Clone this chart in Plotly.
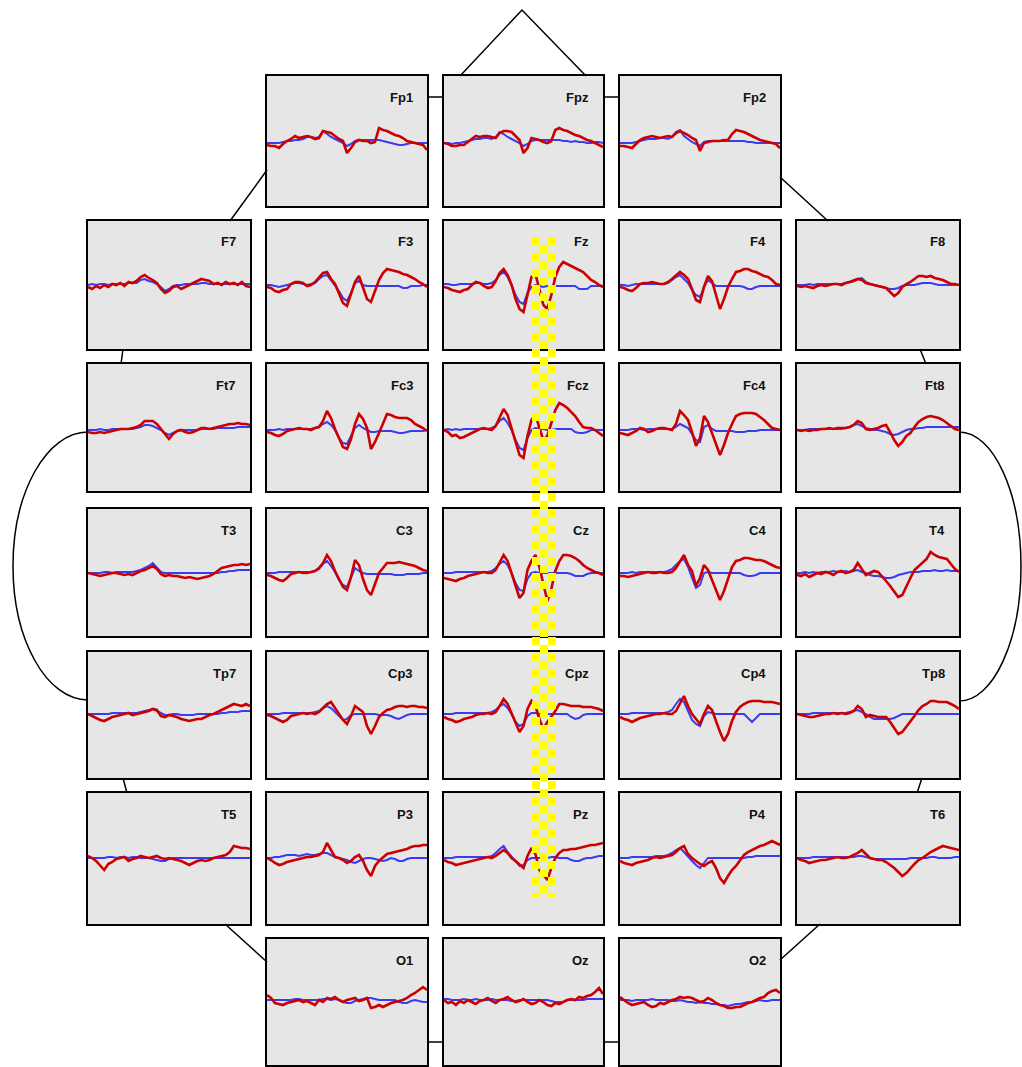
import plotly.graph_objects as go

W, H = 1022, 1067

# ---------------- channel layout (names per row) ----------------
ROW_NAMES = [
    ["Fp1", "Fpz", "Fp2"],
    ["F7", "F3", "Fz", "F4", "F8"],
    ["Ft7", "Fc3", "Fcz", "Fc4", "Ft8"],
    ["T3", "C3", "Cz", "C4", "T4"],
    ["Tp7", "Cp3", "Cpz", "Cp4", "Tp8"],
    ["T5", "P3", "Pz", "P4", "T6"],
    ["O1", "Oz", "O2"],
]
ROW_COLS = [[1, 2, 3], [0, 1, 2, 3, 4], [0, 1, 2, 3, 4], [0, 1, 2, 3, 4],
            [0, 1, 2, 3, 4], [0, 1, 2, 3, 4], [1, 2, 3]]

# time samples (41 per epoch)
TIME = list(range(41))

# ---------------- waveform data (amplitude, positive up) ----------------
FP1_RED = [-2,-3,-3,-5,-1,2,4,7,5,6,7,6,4,5,12,11,10,7,4,2,-10,-5,1,3,2,2,0,1,15,13,12,10,8,7,5,2,1,0,-1,-2,-7]
FP1_BLUE = [0,0,0,0,1,2,2,3,3,4,6,6,5,6,12,9,6,4,2,0,-3,-1,2,3,3,3,3,3,3,2,1,0,-1,-2,-2,-1,0,0,0,0,0]
FPZ_RED = [0,-1,-3,-3,-2,-2,1,4,7,6,7,7,6,5,10,12,12,11,7,3,-10,-5,5,4,3,1,0,2,13,15,13,12,10,8,7,5,3,2,0,-2,-4]
FPZ_BLUE = [0,0,-1,0,0,1,2,3,4,4,5,5,4,6,11,9,6,4,2,0,-3,-1,2,3,3,3,3,3,3,3,2,2,1,2,1,1,0,0,1,1,0]
FP2_RED = [-3,-3,-4,-5,-1,3,5,6,7,6,5,6,7,6,10,12,10,8,5,3,-8,0,1,2,2,2,3,3,9,13,12,11,9,7,5,3,2,1,0,-1,-5]
FP2_BLUE = [0,0,0,0,1,2,3,4,4,4,5,5,4,6,11,13,7,4,1,-1,-3,1,2,2,2,2,2,2,2,2,2,2,1,1,0,0,0,0,0,0,0]

F7_RED = [-2,-4,-1,-3,0,-2,1,0,2,-1,3,2,4,8,10,7,5,2,-4,-8,-6,-2,-1,-4,-2,0,2,4,6,5,4,1,2,0,3,1,2,0,3,-1,-2]
F7_BLUE = [0,1,0,1,1,0,1,1,1,1,2,2,2,5,6,4,3,1,-2,-6,-4,-1,0,0,1,1,1,1,2,2,1,1,1,1,1,1,1,1,1,1,1]
F3_RED = [-2,-3,-6,-7,-5,-4,1,3,3,2,-1,0,3,8,12,13,6,1,-8,-18,-21,-9,3,9,-2,-14,-17,-6,5,12,16,15,14,13,11,10,8,6,3,1,-2]
F3_BLUE = [0,0,-1,-2,-1,0,1,2,2,1,0,1,2,6,9,10,5,0,-6,-13,-16,-8,2,4,0,-1,-1,-1,-1,-1,-1,-1,-1,-1,-3,-3,-1,-1,-1,0,0]
FZ_RED = [-2,-3,-5,-6,-7,-5,-4,0,3,2,-1,-3,-2,4,12,16,10,0,-14,-24,-27,-10,8,11,-5,-20,-24,-10,8,18,23,21,19,17,15,13,9,5,3,0,-2]
FZ_BLUE = [1,1,0,0,1,1,1,1,2,2,1,1,2,5,10,13,8,0,-10,-17,-19,-8,-2,0,-1,-2,-1,-1,-1,-1,-1,-1,-1,-1,-4,-4,-4,-1,-1,-1,-1]
F4_RED = [-2,-3,-5,-6,-3,1,2,2,3,2,1,1,3,6,10,13,10,6,-4,-15,-17,-2,9,4,-10,-24,-14,-2,6,13,14,16,16,14,13,11,9,8,5,1,0]
F4_BLUE = [0,0,-1,0,1,1,1,1,1,1,1,1,2,5,8,10,6,2,-5,-10,-12,-2,5,2,-1,-1,-1,-1,-1,-1,-1,-2,-4,-4,-2,-1,-1,-1,-1,-1,-1]
F8_RED = [-1,-2,-1,-2,-3,-1,0,-1,0,1,1,0,2,3,4,6,5,2,1,0,-1,-2,-3,-7,-11,-8,-2,1,3,6,9,9,8,9,7,6,5,3,1,1,0]
F8_BLUE = [0,0,0,1,0,1,1,1,1,1,1,1,2,3,5,6,7,3,1,0,-1,-2,-3,-4,-4,-3,-1,0,0,0,1,2,2,2,1,0,0,0,0,0,0]

FT7_RED = [-2,-3,-3,-2,-3,-2,-1,0,1,1,1,2,3,5,9,9,9,6,1,-5,-9,-4,-1,0,-2,-3,-2,0,2,2,1,2,3,4,5,6,6,7,6,6,5]
FT7_BLUE = [0,0,0,1,0,0,1,1,1,1,1,1,2,3,5,5,4,2,0,-3,-5,-3,-1,0,0,0,0,0,1,1,1,1,2,2,2,2,2,3,3,3,3]
FC3_RED = [-2,-3,-5,-6,-4,-1,0,1,2,1,1,0,2,3,9,19,12,1,-8,-17,-19,-9,6,16,11,2,-19,-12,-3,6,16,15,13,12,12,12,10,6,4,2,-1]
FC3_BLUE = [0,0,0,1,0,1,1,1,1,1,1,1,2,3,6,8,5,0,-8,-13,-14,-6,2,5,2,0,-2,-2,-1,-1,-1,-1,-2,-3,-3,-2,-1,-1,-1,-1,0]
FCZ_RED = [0,-2,-6,-5,-8,-7,-5,-3,-1,1,2,1,0,4,12,21,15,2,-12,-25,-28,-6,10,16,2,-10,-6,8,20,27,25,22,18,14,8,3,2,2,0,-3,-6]
FCZ_BLUE = [0,1,0,1,0,1,1,1,1,1,1,1,2,4,9,12,7,0,-10,-18,-20,-8,0,2,1,1,0,0,1,1,1,1,1,-2,-3,-3,-2,0,0,0,0]
FC4_RED = [-3,-4,-5,-3,-1,2,1,-2,-1,1,2,2,1,0,6,19,15,10,-2,-16,-8,14,8,-3,-14,-25,-15,-3,6,14,16,17,17,17,16,13,10,6,2,1,0]
FC4_BLUE = [0,0,0,1,1,1,0,1,1,1,1,1,1,1,3,6,4,2,-4,-10,-12,3,5,1,-1,-1,-1,-1,-1,-2,-2,-2,-1,-1,-1,0,0,0,0,0,0]
FT8_RED = [0,-1,0,-1,0,0,1,1,2,1,2,2,2,3,5,9,7,1,0,1,2,4,5,-2,-10,-16,-12,-6,-3,3,8,11,13,14,13,12,10,7,4,1,0]
FT8_BLUE = [0,0,0,1,1,1,1,1,1,1,1,1,2,3,5,6,4,2,1,0,0,-1,-2,-4,-5,-4,-2,0,1,1,2,2,3,3,3,3,3,3,3,3,3]

T3_RED = [0,-1,-2,-3,-2,-1,0,0,-1,-2,-1,-2,0,2,3,5,7,4,-1,-3,-2,-3,-3,-4,-5,-4,-5,-6,-5,-4,-3,-1,2,5,6,7,8,8,9,8,9]
T3_BLUE = [0,0,0,0,1,1,0,1,1,1,1,1,2,3,5,7,10,5,1,0,0,0,0,0,0,0,0,0,0,0,0,0,0,1,1,2,2,3,3,3,3]
C3_RED = [-2,-3,-5,-7,-8,-5,-1,0,1,0,0,1,2,5,10,18,12,2,-6,-14,-17,-4,13,8,-6,-17,-22,-12,0,5,10,10,10,11,10,9,8,7,5,3,2]
C3_BLUE = [0,0,0,1,1,1,1,1,1,1,1,1,2,4,9,12,7,1,-7,-12,-14,-4,5,2,0,-1,-1,-1,-1,-1,-1,-1,-2,-2,-2,-1,-1,-1,-1,0,0]
CZ_RED = [-5,-6,-7,-8,-6,-5,-3,-2,-1,0,1,0,0,3,10,18,12,0,-14,-25,-20,3,12,18,6,-10,-28,-16,2,12,18,18,17,15,12,8,5,3,1,0,-2]
CZ_BLUE = [0,0,0,1,1,1,1,1,1,1,1,1,2,5,9,12,8,0,-10,-17,-18,-6,0,1,0,0,0,0,0,0,0,0,-1,-3,-3,-3,-1,0,0,0,0]
C4_RED = [-3,-3,-4,-3,-2,-1,0,1,0,0,1,0,0,1,5,12,18,8,2,-13,-5,8,3,-7,-18,-27,-18,-5,6,12,13,15,15,14,13,13,12,10,8,6,5]
C4_BLUE = [0,0,0,1,0,1,1,1,1,1,1,1,2,4,8,12,14,6,-5,-15,-12,0,1,0,0,0,0,0,0,0,0,-2,-3,-3,-2,0,0,0,0,0,0]
T4_RED = [-2,-3,-1,-4,-2,0,-1,1,0,-2,1,2,0,1,3,10,4,-2,0,2,1,-3,-8,-13,-19,-24,-22,-13,-5,3,7,10,14,21,18,16,15,14,9,4,1]
T4_BLUE = [0,0,1,0,1,0,1,1,1,2,1,1,2,1,2,3,1,0,-2,-3,-3,-4,-5,-5,-4,-2,-1,0,1,1,1,2,2,2,3,2,2,3,2,2,2]

TP7_RED = [0,-2,-4,-6,-7,-5,-3,-2,-1,0,1,-1,0,1,2,3,5,4,-2,-3,-1,-2,-3,-5,-6,-7,-6,-5,-5,-3,-1,0,2,4,6,8,10,9,8,10,8]
TP7_BLUE = [0,0,0,0,0,0,1,1,1,1,1,1,1,2,3,4,5,3,1,-1,-1,0,0,-1,-1,-1,-1,0,0,0,0,0,0,1,1,2,2,2,3,3,3]
CP3_RED = [-1,-2,-4,-6,-8,-6,-2,-1,0,1,0,1,0,2,6,10,12,6,0,-6,-10,-2,8,5,2,-12,-20,-12,-3,1,4,5,7,8,8,7,8,8,7,7,6]
CP3_BLUE = [0,0,0,0,1,1,1,1,1,1,1,1,2,3,6,8,6,2,-3,-6,-5,-1,0,0,0,0,0,0,-1,-1,-1,-2,-4,-5,-3,-1,0,0,0,0,0]
CPZ_RED = [-3,-5,-6,-8,-7,-5,-4,-3,-1,0,0,1,0,2,8,15,10,0,-10,-18,-12,5,13,8,-5,-15,-8,-3,3,10,10,9,8,8,8,7,7,7,6,5,3]
CPZ_BLUE = [0,0,0,1,1,1,1,1,1,1,1,1,2,4,8,10,6,0,-8,-12,-10,-2,1,1,0,0,0,0,0,0,0,0,-3,-5,-4,-1,0,0,0,0,0]
CP4_RED = [-3,-5,-6,-8,-6,-4,-3,-2,-1,0,0,1,0,0,3,10,18,8,0,-5,-10,0,8,4,-8,-18,-27,-20,-7,2,7,10,12,13,13,13,12,12,12,11,10]
CP4_BLUE = [0,0,0,1,1,1,1,1,1,1,1,1,2,4,10,15,12,3,-6,-10,-12,-2,2,1,0,0,0,0,0,0,0,0,-4,-8,-4,0,0,0,0,0,0]
TP8_RED = [0,-1,-2,-3,-3,-2,-1,0,0,1,0,1,0,1,3,8,5,-3,-1,-2,-3,-3,-3,-8,-14,-20,-18,-13,-8,-2,4,8,10,13,13,12,12,12,10,8,5]
TP8_BLUE = [0,0,0,0,1,1,1,1,1,1,1,1,1,2,3,4,2,0,-3,-5,-5,-5,-5,-5,-4,-2,0,0,0,0,0,0,0,0,0,0,0,0,0,0,0]

T5_RED = [2,0,-3,-8,-12,-6,-4,-1,0,1,-3,-1,0,2,1,0,1,2,0,-1,0,-1,-2,-3,-5,-7,-5,-3,-2,-3,-2,0,1,2,3,6,12,11,10,10,9]
T5_BLUE = [0,0,0,0,0,1,1,0,1,1,0,1,1,0,0,0,-1,-2,-3,-3,-1,0,0,0,0,0,0,0,0,0,0,0,0,0,0,0,0,0,0,0,0]
P3_RED = [0,-2,-5,-7,-6,-4,-3,-2,-1,0,1,1,2,3,6,15,8,1,0,-2,-5,-3,1,3,-3,-12,-18,-8,-3,1,4,5,6,7,8,9,11,12,12,13,13]
P3_BLUE = [0,0,1,1,2,3,3,3,2,3,4,3,3,4,5,5,3,1,0,-1,-2,-4,-5,-3,-1,0,0,-1,-2,-3,-2,0,-1,-3,-3,-1,0,0,0,0,0]
PZ_RED = [-2,-4,-5,-7,-6,-5,-4,-3,-2,-1,0,1,0,2,5,8,5,0,-3,-7,-10,2,10,4,-12,-17,-22,-10,0,5,8,8,9,9,10,11,12,13,13,14,15]
PZ_BLUE = [0,0,0,1,1,1,1,1,1,1,1,1,2,5,9,12,6,1,-4,-8,-7,-2,0,0,0,0,0,1,1,0,0,0,-2,-3,-3,-1,0,0,1,2,2]
P4_RED = [-3,-5,-6,-7,-5,-4,-3,-2,0,1,0,1,2,3,6,10,12,4,0,-3,-6,-8,-5,-3,-10,-20,-25,-18,-12,-8,-2,3,6,8,10,12,13,15,17,15,13]
P4_BLUE = [0,0,0,1,1,1,1,1,1,2,2,2,3,5,8,10,6,1,-3,-7,-10,-5,0,0,0,0,0,0,0,0,0,0,1,1,2,2,2,2,2,2,2]
T6_RED = [0,-2,-3,-5,-4,-3,-2,-2,-1,0,1,0,0,1,3,5,8,4,0,-1,-2,-2,-4,-7,-10,-14,-18,-15,-10,-6,-2,0,3,6,8,10,12,11,10,9,8]
T6_BLUE = [0,0,0,0,1,1,1,1,1,1,1,1,1,1,1,2,2,1,0,-1,-1,-1,-1,-1,-1,-1,-1,-1,0,0,0,0,0,1,1,0,0,0,0,1,1]

O1_RED = [5,2,-3,-4,-5,-3,-2,-1,0,-2,-1,-3,-5,0,-2,2,1,3,0,-2,0,1,2,-1,0,2,-8,-7,-5,-7,-5,-3,-2,-1,0,2,5,7,10,13,10]
O1_BLUE = [0,0,0,0,0,0,0,1,1,0,0,0,0,0,1,1,0,1,0,-2,-3,-3,-1,0,1,2,2,1,0,0,0,0,0,-2,-3,-3,-1,0,-1,-2,-2]
OZ_RED = [0,-3,-2,-5,-1,-3,0,-2,-4,-1,0,2,-1,-3,0,1,3,0,-2,-1,1,-2,-4,-3,0,-2,-5,-6,-3,-4,-2,0,1,0,3,2,4,5,8,12,6]
OZ_BLUE = [1,1,0,0,0,1,0,0,1,0,0,0,1,0,0,0,0,-1,-1,0,0,0,0,0,0,0,0,-1,-2,-2,-2,0,0,0,0,0,1,1,1,1,1]
O2_RED = [3,0,-3,-5,-4,-3,-2,-5,-7,-6,-3,-4,-2,0,1,3,2,3,2,0,-2,-1,2,0,-3,-5,-6,-8,-8,-7,-7,-5,-3,-2,0,2,3,7,9,10,7]
O2_BLUE = [0,0,0,-1,0,0,0,0,1,0,0,0,0,-1,-1,0,-1,-2,-2,-3,-2,-3,-3,-4,-4,-5,-5,-6,-5,-4,-4,-3,-2,-2,-1,0,-1,-1,0,0,0]

RED = {
    "Fp1": FP1_RED, "Fpz": FPZ_RED, "Fp2": FP2_RED,
    "F7": F7_RED, "F3": F3_RED, "Fz": FZ_RED, "F4": F4_RED, "F8": F8_RED,
    "Ft7": FT7_RED, "Fc3": FC3_RED, "Fcz": FCZ_RED, "Fc4": FC4_RED, "Ft8": FT8_RED,
    "T3": T3_RED, "C3": C3_RED, "Cz": CZ_RED, "C4": C4_RED, "T4": T4_RED,
    "Tp7": TP7_RED, "Cp3": CP3_RED, "Cpz": CPZ_RED, "Cp4": CP4_RED, "Tp8": TP8_RED,
    "T5": T5_RED, "P3": P3_RED, "Pz": PZ_RED, "P4": P4_RED, "T6": T6_RED,
    "O1": O1_RED, "Oz": OZ_RED, "O2": O2_RED,
}
BLUE = {
    "Fp1": FP1_BLUE, "Fpz": FPZ_BLUE, "Fp2": FP2_BLUE,
    "F7": F7_BLUE, "F3": F3_BLUE, "Fz": FZ_BLUE, "F4": F4_BLUE, "F8": F8_BLUE,
    "Ft7": FT7_BLUE, "Fc3": FC3_BLUE, "Fcz": FCZ_BLUE, "Fc4": FC4_BLUE, "Ft8": FT8_BLUE,
    "T3": T3_BLUE, "C3": C3_BLUE, "Cz": CZ_BLUE, "C4": C4_BLUE, "T4": T4_BLUE,
    "Tp7": TP7_BLUE, "Cp3": CP3_BLUE, "Cpz": CPZ_BLUE, "Cp4": CP4_BLUE, "Tp8": TP8_BLUE,
    "T5": T5_BLUE, "P3": P3_BLUE, "Pz": PZ_BLUE, "P4": P4_BLUE, "T6": T6_BLUE,
    "O1": O1_BLUE, "Oz": OZ_BLUE, "O2": O2_BLUE,
}

# ---------------- layout geometry (pixels) ----------------
COL_X = [(88, 250), (267, 427), (444, 603), (620, 780), (797, 959)]
ROW_Y = [(76, 206), (221, 349), (364, 491), (509, 636), (652, 778), (793, 924), (939, 1065)]
ROW_BASE = [143, 285, 430, 573, 714, 858, 1000]

RED_C = "#cc0000"
BLUE_C = "#3b3bf0"
PANEL_BG = "#e6e6e6"


def px(x):
    return x / W


def py(y):
    return 1 - y / H


fig = go.Figure()
layout_axes = {}
annotations = []
n = 0
for r, names in enumerate(ROW_NAMES):
    top, bot = ROW_Y[r]
    base = ROW_BASE[r]
    for c, name in zip(ROW_COLS[r], names):
        n += 1
        x0, x1 = COL_X[c]
        xa = "x" if n == 1 else f"x{n}"
        ya = "y" if n == 1 else f"y{n}"
        xk = "xaxis" if n == 1 else f"xaxis{n}"
        yk = "yaxis" if n == 1 else f"yaxis{n}"
        common = dict(showline=True, mirror=True, linecolor="black", linewidth=2,
                      showgrid=False, zeroline=False, ticks="", showticklabels=False,
                      fixedrange=True)
        layout_axes[xk] = dict(domain=[px(x0), px(x1)], range=[0, 40], anchor=ya, **common)
        layout_axes[yk] = dict(domain=[py(bot), py(top)], range=[-(bot - base), base - top],
                               anchor=xa, **common)
        fig.add_trace(go.Scatter(x=TIME, y=BLUE[name], mode="lines", xaxis=xa, yaxis=ya,
                                 line=dict(color=BLUE_C, width=2),
                                 hoverinfo="skip", showlegend=False))
        fig.add_trace(go.Scatter(x=TIME, y=RED[name], mode="lines", xaxis=xa, yaxis=ya,
                                 line=dict(color=RED_C, width=2.6),
                                 hoverinfo="skip", showlegend=False))
        annotations.append(dict(text=f"<b>{name}</b>", x=px(x1 - 12), y=py(top + 21),
                                xref="paper", yref="paper", xanchor="right", yanchor="middle",
                                showarrow=False,
                                font=dict(family="Liberation Sans, Arial", size=13, color="#111")))

# ---------------- head outline (decoration) ----------------
shapes = []


def seg(pts):
    d = "M " + " L ".join(f"{px(a):.5f},{py(b):.5f}" for a, b in pts)
    shapes.append(dict(type="path", path=d, xref="paper", yref="paper",
                       line=dict(color="black", width=1.5), layer="below"))


seg([(460, 76), (522, 10), (586, 76)])          # nose
seg([(427, 97), (444, 97)])                      # Fp1 - Fpz
seg([(603, 97), (620, 97)])                      # Fpz - Fp2
seg([(267, 170), (230, 221)])                    # Fp1 - F7
seg([(780, 177), (828, 221)])                    # Fp2 - F8
seg([(123, 349), (121, 364)])                    # F7 - Ft7
seg([(920, 349), (926, 364)])                    # F8 - Ft8
seg([(123, 778), (127, 793)])                    # Tp7 - T5
seg([(922, 778), (917, 793)])                    # Tp8 - T6
seg([(225, 924), (267, 962)])                    # T5 - O1
seg([(820, 924), (780, 960)])                    # T6 - O2
seg([(427, 1042), (444, 1042)])                  # O1 - Oz
seg([(603, 1042), (620, 1042)])                  # Oz - O2


def ear(xe, y0, y1, xout):
    k = 0.5523
    ym = (y0 + y1) / 2
    ry = (y1 - y0) / 2
    rx = xout - xe
    d = (f"M {px(xe):.5f},{py(y0):.5f} "
         f"C {px(xe + rx * k):.5f},{py(y0):.5f} {px(xout):.5f},{py(ym - ry * k):.5f} {px(xout):.5f},{py(ym):.5f} "
         f"C {px(xout):.5f},{py(ym + ry * k):.5f} {px(xe + rx * k):.5f},{py(y1):.5f} {px(xe):.5f},{py(y1):.5f}")
    shapes.append(dict(type="path", path=d, xref="paper", yref="paper",
                       line=dict(color="black", width=1.5), layer="below"))


ear(88, 432, 700, 13)
ear(959, 432, 701, 1021)

# ---------------- yellow checkered cursor band ----------------
BAND_X0, BAND_Y0, BAND_Y1, CELL = 532, 237, 898, 8
nrows = int((BAND_Y1 - BAND_Y0) / CELL + 0.5)
for i in range(nrows):
    for j in range(3):
        if (i + j) % 2 == 0:
            ya0 = BAND_Y0 + i * CELL
            ya1 = min(ya0 + CELL, BAND_Y1)
            xa0 = BAND_X0 + j * CELL
            shapes.append(dict(type="rect", xref="paper", yref="paper",
                               x0=px(xa0), x1=px(xa0 + CELL), y0=py(ya1), y1=py(ya0),
                               fillcolor="#ffff00", line=dict(width=0), layer="above"))

fig.update_layout(
    width=W, height=H, autosize=False,
    margin=dict(l=0, r=0, t=0, b=0),
    paper_bgcolor="white", plot_bgcolor=PANEL_BG,
    showlegend=False, shapes=shapes, annotations=annotations,
    **layout_axes,
)

fig.write_html("out.html")
